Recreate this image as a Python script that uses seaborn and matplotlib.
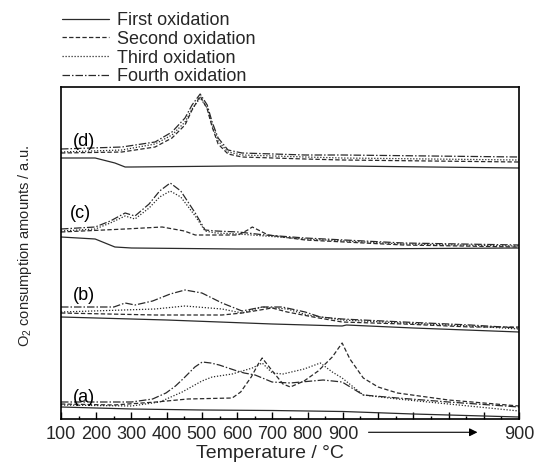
import matplotlib
matplotlib.use('Agg')
import matplotlib.pyplot as plt
import matplotlib.transforms as mtransforms
from matplotlib.lines import Line2D
from matplotlib.ticker import FixedLocator, MultipleLocator
import pandas as pd
import seaborn as sns

sns.set_theme(style='white')
plt.rcParams['font.family'] = ['Liberation Sans', 'DejaVu Sans']
plt.rcParams['mathtext.default'] = 'regular'

oxidations = ['First oxidation', 'Second oxidation', 'Third oxidation', 'Fourth oxidation']
samples = ['(a)', '(b)', '(c)', '(d)']

# x position: temperature during the 100-900 ramp; positions beyond 900 = isothermal hold at 900 °C
# ---- sample (a)
a_first_x = [100, 300, 500, 700, 900, 1100, 1400]
a_first_y = [12, 10, 9, 8.5, 7.5, 5, 2]
a_second_x = [100, 250, 370, 460, 586, 610, 640, 660, 671, 700, 730, 751, 790, 830, 870, 898, 920, 958, 1000, 1055, 1200, 1400]
a_second_y = [15, 14, 17, 20, 21, 27, 42, 55, 61, 48, 35, 32, 38, 48, 62, 76, 60, 41, 32, 26, 19, 13]
a_third_x = [100, 300, 380, 444, 500, 529, 586, 643, 671, 700, 730, 790, 836, 870, 898, 958, 1055, 1200, 1400]
a_third_y = [14, 13, 17, 27, 38, 42, 45, 51, 56, 46, 45, 50, 56, 47, 41, 24, 20, 15, 8]
a_fourth_x = [100, 300, 360, 398, 425, 449, 480, 501, 525, 549, 600, 620, 651, 699, 751, 844, 898, 958, 1055, 1200, 1400]
a_fourth_y = [17, 17, 20, 26, 33, 41, 52, 57, 56, 54, 48, 46, 44, 37, 36, 39, 37, 24, 21, 17, 12]
# ---- sample (b)
b_first_x = [100, 400, 700, 898, 910, 1100, 1400]
b_first_y = [102, 99, 95, 93, 94, 91, 87]
b_second_x = [100, 367, 557, 614, 699, 742, 816, 898, 1072, 1262, 1400]
b_second_y = [106, 104, 104, 106, 111, 107, 102, 97, 95, 92, 92]
b_third_x = [100, 367, 452, 557, 614, 671, 742, 800, 898, 1072, 1262, 1400]
b_third_y = [107, 110, 113, 110, 106, 112, 110, 104, 99, 96, 93, 90]
b_fourth_x = [100, 250, 282, 310, 360, 410, 452, 500, 557, 614, 671, 728, 793, 836, 898, 1072, 1262, 1400]
b_fourth_y = [112, 112, 116, 114, 118, 125, 129, 126, 116, 108, 112, 112, 107, 102, 100, 97, 94, 91]
# ---- sample (c)
c_first_x = [100, 197, 253, 300, 600, 900, 1400]
c_first_y = [182, 180, 172, 171, 170, 170, 171]
c_second_x = [100, 282, 387, 450, 481, 603, 630, 643, 660, 688, 793, 1072, 1400]
c_second_y = [187, 190, 192, 188, 184, 184, 189, 192, 189, 184, 179, 174, 172]
c_third_x = [100, 197, 240, 282, 310, 350, 380, 410, 440, 481, 509, 540, 603, 680, 793, 1072, 1400]
c_third_y = [188, 190, 196, 203, 200, 211, 222, 228, 222, 203, 188, 186, 185, 183, 180, 175, 173]
c_fourth_x = [100, 197, 240, 282, 310, 350, 380, 410, 440, 481, 509, 540, 603, 680, 793, 1072, 1400]
c_fourth_y = [190, 192, 198, 206, 203, 215, 228, 236, 228, 206, 189, 188, 187, 184, 181, 176, 174]
# ---- sample (d)
d_first_x = [100, 197, 253, 282, 300, 600, 900, 1400]
d_first_y = [261, 261, 256, 252, 252, 253, 253, 251]
d_peak_x = [100, 273, 367, 415, 452, 472, 495, 515, 529, 546, 574, 614, 793, 900, 1400]
d_second_y = [266, 267, 272, 281, 294, 309, 323, 310, 292, 275, 265, 262, 260, 259, 257]
d_third_y = [267, 269, 275, 284, 297, 310, 321, 311, 294, 278, 267, 264, 262, 261, 259]
d_fourth_y = [270, 272, 277, 287, 301, 314, 325, 314, 297, 281, 269, 266, 264, 264, 262]

tick_positions = [100, 200, 300, 400, 500, 600, 700, 800, 900, 1000, 1100, 1200, 1300, 1400]
tick_labels = ['100', '200', '300', '400', '500', '600', '700', '800', '900', '', '', '', '', '900']
label_pos = {'(a)': (165, 21), '(b)': (165, 124), '(c)': (154, 205), '(d)': (165, 278)}

curves = [
    ('(a)', 'First oxidation', a_first_x, a_first_y),
    ('(a)', 'Second oxidation', a_second_x, a_second_y),
    ('(a)', 'Third oxidation', a_third_x, a_third_y),
    ('(a)', 'Fourth oxidation', a_fourth_x, a_fourth_y),
    ('(b)', 'First oxidation', b_first_x, b_first_y),
    ('(b)', 'Second oxidation', b_second_x, b_second_y),
    ('(b)', 'Third oxidation', b_third_x, b_third_y),
    ('(b)', 'Fourth oxidation', b_fourth_x, b_fourth_y),
    ('(c)', 'First oxidation', c_first_x, c_first_y),
    ('(c)', 'Second oxidation', c_second_x, c_second_y),
    ('(c)', 'Third oxidation', c_third_x, c_third_y),
    ('(c)', 'Fourth oxidation', c_fourth_x, c_fourth_y),
    ('(d)', 'First oxidation', d_first_x, d_first_y),
    ('(d)', 'Second oxidation', d_peak_x, d_second_y),
    ('(d)', 'Third oxidation', d_peak_x, d_third_y),
    ('(d)', 'Fourth oxidation', d_peak_x, d_fourth_y),
]
rows = []
for s, ox, xs, ys in curves:
    for x, y in zip(xs, ys):
        rows.append({'pos': x, 'signal': y, 'sample': s, 'oxidation': ox})
df = pd.DataFrame(rows)

dash_map = {
    'First oxidation': '',
    'Second oxidation': (3.5, 1.8),
    'Third oxidation': (1.0, 1.4),
    'Fourth oxidation': (6, 1.6, 1.2, 1.6),
}
line_color = '#2a2a2a'

fig = plt.figure(figsize=(5.37, 4.62), dpi=100)
ax = fig.add_axes([61 / 537, 1 - 419 / 462, 458 / 537, 332 / 462])

sns.lineplot(data=df, x='pos', y='signal', style='oxidation', units='sample',
             estimator=None, sort=False, dashes=dash_map, color=line_color,
             linewidth=0.9, legend=False, ax=ax)

ax.set_xlim(100, 1400)
ax.set_ylim(0, 332)
ax.set_yticks([])
ax.xaxis.set_major_locator(FixedLocator(tick_positions))
ax.set_xticklabels(tick_labels)
ax.xaxis.set_minor_locator(MultipleLocator(50))
ax.tick_params(axis='x', which='both', direction='in', bottom=True, top=False,
               color='black', width=1.0, labelsize=13, pad=5)
ax.tick_params(axis='x', which='major', length=5)
ax.tick_params(axis='x', which='minor', length=2.5)
for sp in ax.spines.values():
    sp.set_color('black')
    sp.set_linewidth(1.2)

ax.set_xlabel('Temperature / °C', fontsize=14)
ax.xaxis.set_label_coords(0.456, -0.078)
ax.set_ylabel('O$_2$ consumption amounts / a.u.', fontsize=10.5)
ax.yaxis.set_label_coords(-0.06, 0.52)

for s in samples:
    x, y = label_pos[s]
    ax.text(x, y, s, fontsize=13, ha='center', va='center', color='black')

trans = mtransforms.blended_transform_factory(ax.transData, ax.transAxes)
ax.annotate('', xy=(1290, -0.04), xytext=(965, -0.04), xycoords=trans, textcoords=trans,
            arrowprops=dict(arrowstyle='-|>', lw=0.8, color='black', mutation_scale=12),
            annotation_clip=False)

handles = []
for ox in oxidations:
    d = dash_map[ox]
    if d == '':
        h = Line2D([], [], color=line_color, linewidth=0.9, linestyle='-')
    else:
        h = Line2D([], [], color=line_color, linewidth=0.9, linestyle=(0, d))
    handles.append(h)
fig.legend(handles, oxidations, loc='upper left', bbox_to_anchor=(62 / 537, 1 - 12 / 462),
           frameon=False, fontsize=13, handlelength=2.6, handletextpad=0.45,
           labelspacing=0.1, borderpad=0, borderaxespad=0)

fig.savefig('out.png', dpi=100)
